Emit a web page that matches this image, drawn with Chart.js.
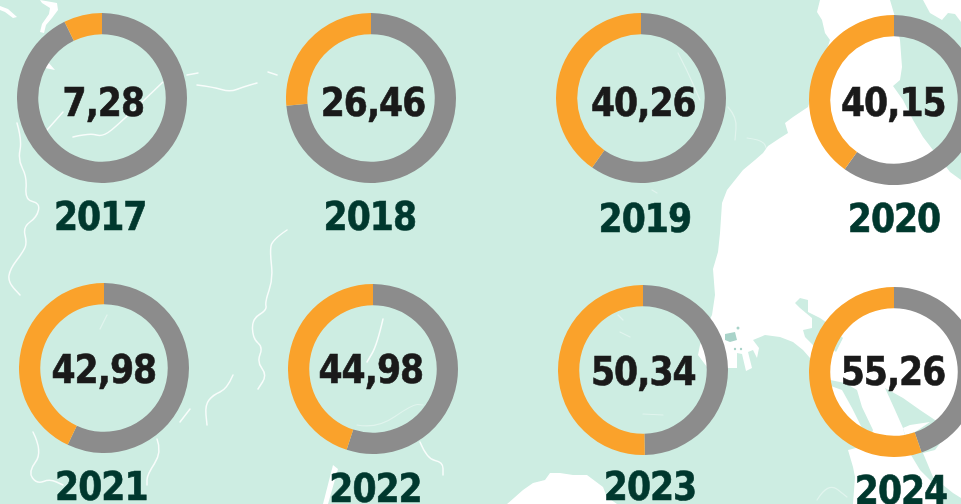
<!DOCTYPE html>
<html>
<head>
<meta charset="utf-8">
<title>Donuts</title>
<script src="https://cdn.jsdelivr.net/npm/chart.js@4/dist/chart.umd.min.js"></script>
<style>
   html, body { margin: 0; padding: 0; }
   body { width: 961px; height: 504px; overflow: hidden; position: relative; background: #cdede2; font-family: "DejaVu Sans Condensed", "DejaVu Sans", sans-serif; font-weight: 700; }
   #map { position: absolute; left: 0; top: 0; }
   #map .river { fill: none; stroke: #fff; stroke-width: 1.5; opacity: 0.85; stroke-linejoin: round; stroke-linecap: round; }
   #map .faint { opacity: 0.4; stroke-width: 1.2; }
   .cell canvas { position: absolute; left: calc(var(--cx) * 1px - 85px); top: calc(var(--cy) * 1px - 85px); }
   .value, .year { position: absolute; transform: translate(-50%, -50%); line-height: 1; white-space: nowrap; font-size: 38.5px; letter-spacing: -1px; -webkit-text-stroke: 0.6px currentColor; }
   .value { left: calc(var(--tx) * 1px); top: calc(var(--ty) * 1px); color: #1a1a1a; }
   .year { left: calc(var(--yx) * 1px); top: calc(var(--yy) * 1px); color: #00382e; }
   /* every donut sits a little off the grid in the original */
   .cell:nth-of-type(1) { --cx: 101.8; --cy: 97.7; --tx: 103.3; --ty: 103; --yx: 100.2; --yy: 216.5; }
   .cell:nth-of-type(2) { --cx: 371; --cy: 97.7; --tx: 373; --ty: 103; --yx: 369.8; --yy: 216.5; }
   .cell:nth-of-type(3) { --cx: 641.3; --cy: 97.7; --tx: 643.3; --ty: 103; --yx: 644.8; --yy: 218.5; }
   .cell:nth-of-type(4) { --cx: 894; --cy: 99.7; --tx: 893.3; --ty: 103; --yx: 894; --yy: 218.5; }
   .cell:nth-of-type(5) { --cx: 104; --cy: 368.3; --tx: 103.8; --ty: 370; --yx: 101.3; --yy: 487; }
   .cell:nth-of-type(6) { --cx: 373.3; --cy: 368.7; --tx: 370.8; --ty: 370; --yx: 375.5; --yy: 488.5; }
   .cell:nth-of-type(7) { --cx: 642.7; --cy: 370; --tx: 643.3; --ty: 371.5; --yx: 650; --yy: 487; }
   .cell:nth-of-type(8) { --cx: 894; --cy: 371.7; --tx: 893; --ty: 372; --yx: 901; --yy: 490.5; }
</style>
</head>
<body>
<svg id="map" width="961" height="504" viewBox="0 0 961 504">
   <!-- sea -->
   <path fill="#fff" d="M820,0 L890,0 895,17 900,40 902,67 900,80 893,86 903,100 913,120 923,137 933,150 950,172 961,180 961,504 853,504 855,477 853,467 848,450 868,445 873,430 862,407 857,390 845,383 830,380 810,358 803,350 793,342 780,337 765,335 753,340 759,348 757,358 753,350 748,352 752,368 746,371 742,354 737,353 737,368 728,368 707,367 698,355 700,345 707,325 712,315 715,295 713,269 718,252 720,233 722,203 727,190 743,170 755,160 763,153 768,146 780,138 788,133 785,123 793,117 808,107 830,40 825,33 822,20 817,12 Z"/>
   <path fill="#fff" d="M923,0 L930,13 942,20 948,13 955,14 961,22 961,0 Z"/>
   <path fill="#fff" d="M507,504 L523,490 533,483 545,480 550,473 560,473 573,475 587,475 603,487 607,497 617,504 Z"/>
   <!-- land over the sea -->
   <path fill="#cdede2" d="M795,303 L800,298 808,300 808,312 820,318 830,325 843,338 836,352 828,345 815,347 805,337 803,330 812,328 812,318 800,308 Z"/>
   <path fill="#cdede2" d="M885,388 L903,398 920,410 935,420 950,430 935,450 923,453 933,477 953,493 961,498 961,504 943,504 935,485 920,470 908,450 905,436 903,428 895,410 Z"/>
   <path fill="#fff" d="M903,428 L910,425 930,422 915,432 905,435 Z"/>
   <path fill="#fff" d="M828,385 L842,390 852,408 862,428 855,432 840,420 825,400 Z"/>
   <path fill="#a9d3c9" d="M725,334 L735,332 737,340 730,342 725,340 Z"/>
   <circle fill="#a9d3c9" cx="738" cy="328" r="1.5"/>
   <circle fill="#a9d3c9" cx="735" cy="349" r="1.2"/>
   <circle fill="#a9d3c9" cx="741" cy="349" r="1.2"/>
   <!-- north west lakes -->
   <path fill="#fff" d="M0,6 L8,9 17,17 13,18 5,12 0,10 Z"/>
   <path fill="#fff" d="M40,0 L57,3 58,10 52,18 46,25 44,33 40,32 42,24 49,14 50,8 42,3 Z"/>
   <path fill="#fff" d="M48,62 L55,70 45,68 Z"/>
   <path fill="#fff" d="M333,465 L338,469 328,504 323,504 Z"/>
   <!-- rivers -->
   <polyline class="river" points="17,123 22,140 18,160 27,177 25,200 40,203 37,217 23,227 27,243 23,252 10,269 8,282 20,295"/>
   <polyline class="river" points="73,137 90,133 103,137 120,123 163,82"/>
   <polyline class="river" points="47,130 63,112"/>
   <polyline class="river" points="187,75 198,73"/>
   <polyline class="river" points="197,85 213,87 230,92 243,87 257,83"/>
   <polyline class="river" points="268,72 277,75"/>
   <polyline class="river" points="287,230 272,240 270,252 273,279 265,302 267,310 252,319 253,339 263,347 257,362 267,375 258,389"/>
   <polyline class="river" points="233,375 227,389 213,395 205,405 207,425"/>
   <polyline class="river" points="190,409 180,422"/>
   <polyline class="river" points="33,432 43,452 28,472 37,484 50,479 63,485"/>
   <polyline class="river" points="157,439 162,452 147,475 147,485"/>
   <polyline class="river" points="383,319 377,345 367,362"/>
   <polyline class="river" points="420,442 427,459 443,462 443,475"/>
   <polyline class="river faint" points="100,329 107,315"/>
   <polyline class="river faint" points="357,425 377,429 413,404 423,405"/>
   <polyline class="river faint" points="678,53 687,70 700,100"/>
   <polyline class="river faint" points="728,107 737,117 735,140"/>
   <polyline class="river faint" points="747,138 763,140 767,150"/>
   <polyline class="river faint" points="652,190 657,193"/>
   <polyline class="river faint" points="620,332 630,337"/>
   <polyline class="river faint" points="618,315 623,320"/>
   <polyline class="river faint" points="643,414 663,415"/>
   <polyline class="river faint" points="817,500 828,482 847,497"/>
</svg>

<script>
   const years = ['2017', '2018', '2019', '2020', '2021', '2022', '2023', '2024'];
   const shares = [7.28, 26.46, 40.26, 40.15, 42.98, 44.98, 50.34, 55.26];

   const restColor = '#8c8c8c';
   const shareColor = '#faa22b';

   function smoothRivers(){
      // round off the river corners, they are not straight in the original
      document.querySelectorAll('#map polyline').forEach((line) => {
         let pts = Array.from(line.points).map((p) => [p.x, p.y]);
         let d = `M${pts[0][0]},${pts[0][1]}`;
         for(let i = 1; i < pts.length - 1; i++){
            let midX = (pts[i][0] + pts[i + 1][0]) / 2;
            let midY = (pts[i][1] + pts[i + 1][1]) / 2;
            d += ` Q${pts[i][0]},${pts[i][1]} ${midX},${midY}`;
         }
         d += ` L${pts[pts.length - 1][0]},${pts[pts.length - 1][1]}`;
         let path = document.createElementNS('http://www.w3.org/2000/svg', 'path');
         path.setAttribute('class', line.getAttribute('class'));
         path.setAttribute('d', d);
         line.replaceWith(path);
      });
   }

   function constructDonut(year, share){
      let cell = document.createElement('div');
      cell.className = 'cell';
      cell.innerHTML = `
         <canvas width="170" height="170"></canvas>
         <div class="value">${share.toFixed(2).replace('.', ',')}</div>
         <div class="year">${year}</div>`;
      document.body.append(cell);

      // grey comes first so the orange part runs back from 12 o'clock
      new Chart(cell.querySelector('canvas').getContext('2d'), {
         type: 'doughnut',
         data: {
            labels: ['Rest', year],
            datasets: [{
               data: [100 - share, share],
               backgroundColor: [restColor, shareColor],
               borderWidth: 0
            }]
         },
         options: {
            responsive: false,
            animation: false,
            cutout: '75%',
            events: [],
            plugins: {
               legend: { display: false },
               tooltip: { enabled: false }
            }
         }
      });
   }

   smoothRivers();
   years.forEach((year, i) => constructDonut(year, shares[i]));
</script>
</body>
</html>
